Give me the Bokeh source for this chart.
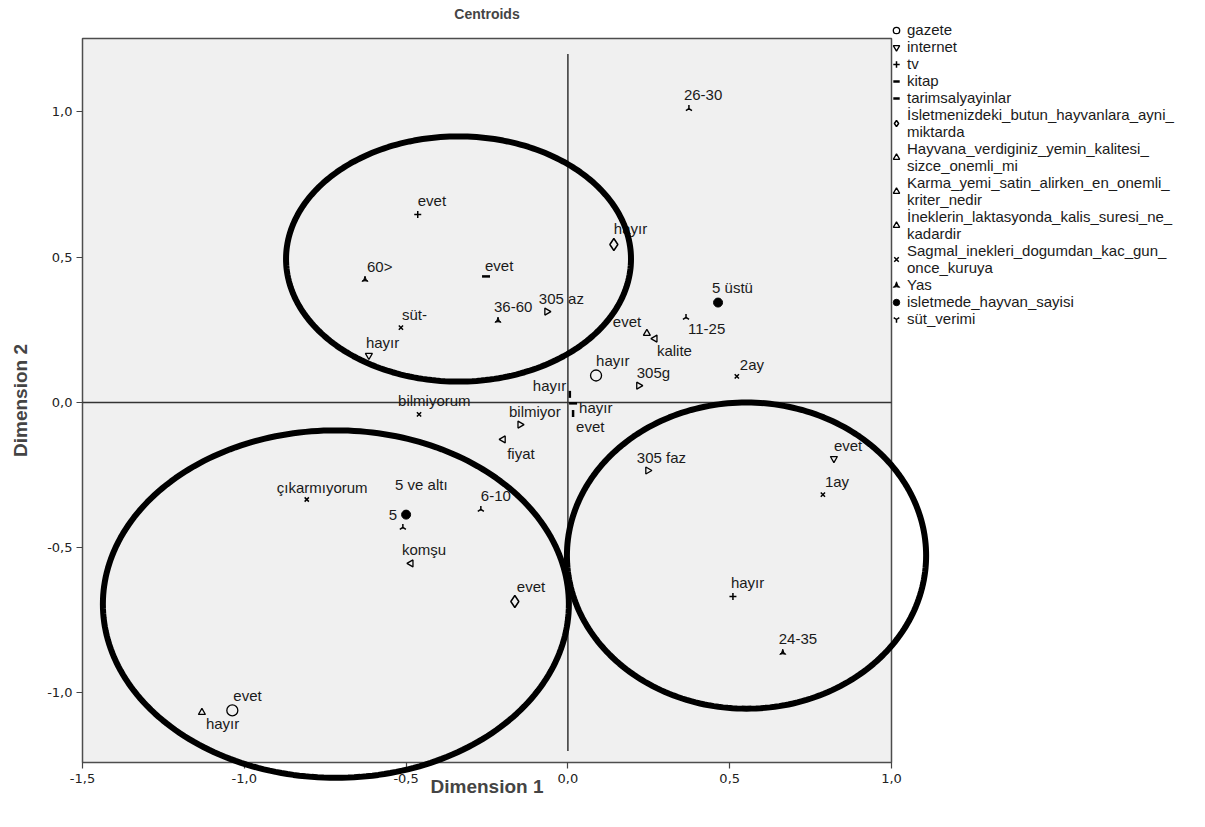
import numpy as np
from bokeh.plotting import figure
from bokeh.models import (ColumnDataSource, PolyAnnotation, BoxAnnotation, Legend, LegendItem,
                          FixedTicker, CustomJSTickFormatter, Range1d, Label)
from bokeh.embed import file_html
from bokeh.resources import INLINE
from bokeh.core.properties import value

# ---------------- data (centroid coordinates) ----------------
gazete_cat = ["evet", "hayır"]
gazete_x = [-1.037, 0.087]
gazete_y = [-1.060, 0.093]

internet_cat = ["hayır", "evet"]
internet_x = [-0.615, 0.822]
internet_y = [0.162, -0.193]

tv_cat = ["evet", "hayır"]
tv_x = [-0.464, 0.510]
tv_y = [0.647, -0.668]

kitap_cat = ["evet", "hayır"]
kitap_x = [-0.253, 0.016]
kitap_y = [0.434, -0.003]

tarim_cat = ["hayır", "evet"]
tarim_x = [0.006, 0.016]
tarim_y = [0.028, -0.038]

isletmeniz_cat = ["hayır", "evet"]
isletmeniz_x = [0.142, -0.164]
isletmeniz_y = [0.544, -0.685]

hayvana_cat = ["evet", "hayır"]
hayvana_x = [0.244, -1.131]
hayvana_y = [0.238, -1.067]

karma_cat = ["kalite", "fiyat", "komşu"]
karma_x = [0.269, -0.200, -0.485]
karma_y = [0.220, -0.127, -0.554]

inek_cat = ["305 az", "305g", "bilmiyor", "305 faz"]
inek_x = [-0.065, 0.219, -0.148, 0.247]
inek_y = [0.313, 0.058, -0.076, -0.234]

sagmal_cat = ["süt-", "2ay", "bilmiyorum", "çıkarmıyorum", "1ay"]
sagmal_x = [-0.516, 0.522, -0.460, -0.807, 0.788]
sagmal_y = [0.258, 0.090, -0.041, -0.334, -0.317]

yas_cat = ["60>", "36-60", "24-35"]
yas_x = [-0.627, -0.216, 0.664]
yas_y = [0.423, 0.282, -0.861]

sayi_cat = ["5 üstü", "5 ve altı"]
sayi_x = [0.464, -0.500]
sayi_y = [0.344, -0.386]

sut_cat = ["26-30", "11-25", "6-10", "5"]
sut_x = [0.374, 0.365, -0.269, -0.510]
sut_y = [1.012, 0.293, -0.368, -0.430]

legend_names = [
    "gazete", "internet", "tv", "kitap", "tarimsalyayinlar",
    "İsletmenizdeki_butun_hayvanlara_ayni_\nmiktarda",
    "Hayvana_verdiginiz_yemin_kalitesi_\nsizce_onemli_mi",
    "Karma_yemi_satin_alirken_en_onemli_\nkriter_nedir",
    "İneklerin_laktasyonda_kalis_suresi_ne_\nkadardir",
    "Sagmal_inekleri_dogumdan_kac_gun_\nonce_kuruya",
    "Yas", "isletmede_hayvan_sayisi", "süt_verimi",
]

x_ticks = [-1.5, -1.0, -0.5, 0.0, 0.5, 1.0]
y_ticks = [-1.0, -0.5, 0.0, 0.5, 1.0]

# ---------------- styling (label offsets in screen px, +y = down) ----------------
label_dx = [[1, 0], [-3, 0], [0, -2], [-1, 6], [-37, 3], [0, 2], [-34, 4],
            [2, 4, -9], [-8, -2, -11, -11], [1, 3, -21, -30, 2], [2, -4, -4],
            [-6, -11], [-5, 2, 0, -14]]
label_dy = [[-15, -15], [-13, -13], [-14, -14], [-11, 4], [-9, 13], [-16, -15], [-12, 11],
            [12, 14, -14], [-13, -13, -13, -13], [-13, -12, -14, -12, -13], [-13, -14, -14],
            [-15, -30], [-14, 12, -13, -12]]

series = [
    (gazete_cat, gazete_x, gazete_y, dict(marker="circle", size=11, fill_color=None, line_width=1.3)),
    (internet_cat, internet_x, internet_y, dict(marker="inverted_triangle", size=7, fill_color=None, line_width=1.3)),
    (tv_cat, tv_x, tv_y, dict(marker="cross", size=7, line_width=1.5)),
    (kitap_cat, kitap_x, kitap_y, dict(marker="dash", size=8, line_width=2.5)),
    (tarim_cat, tarim_x, tarim_y, dict(marker="dash", size=7, line_width=2.5, angle=np.pi / 2)),
    (isletmeniz_cat, isletmeniz_x, isletmeniz_y, dict(marker="diamond", size=12, fill_color=None, line_width=1.5)),
    (hayvana_cat, hayvana_x, hayvana_y, dict(marker="triangle", size=7, fill_color=None, line_width=1.3)),
    (karma_cat, karma_x, karma_y, dict(marker="triangle", size=7, fill_color=None, line_width=1.3, angle=np.pi / 2)),
    (inek_cat, inek_x, inek_y, dict(marker="triangle", size=7, fill_color=None, line_width=1.3, angle=-np.pi / 2)),
    (sagmal_cat, sagmal_x, sagmal_y, dict(marker="x", size=6, line_width=1.5)),
    (yas_cat, yas_x, yas_y, dict(marker="triangle_pin", size=6, fill_color="black", line_width=1)),
    (sayi_cat, sayi_x, sayi_y, dict(marker="circle", size=9, fill_color="black", line_width=1)),
    (sut_cat, sut_x, sut_y, dict(marker="y", size=7, line_width=1.5, angle=np.pi)),
]

# ellipses drawn on the chart (annotation shapes): center x, center y, half width, half height
ellipses = [(-0.338, 0.494, 0.533, 0.422),
            (-0.717, -0.694, 0.720, 0.598),
            (0.552, -0.527, 0.555, 0.527)]

# plot box limits and the canvas extent around it
box = dict(left=-1.5, right=1.0, bottom=-1.239, top=1.253)

p = figure(width=1189, height=805, output_backend="svg", toolbar_location=None,
           x_range=Range1d(-1.7534, 1.9209), y_range=Range1d(-1.3873, 1.3838))
p.min_border = 0
p.min_border_left = 0
p.min_border_right = 0
p.min_border_top = 0
p.min_border_bottom = 0
p.outline_line_color = None
p.background_fill_color = "white"
p.border_fill_color = "white"
p.grid.visible = False

p.add_layout(BoxAnnotation(left=box["left"], right=box["right"], bottom=box["bottom"], top=box["top"],
                           fill_color="#f0f0f0", fill_alpha=1, line_color="#4d4d4d", line_alpha=1,
                           line_width=1.5, level="underlay"))

fmt = CustomJSTickFormatter(code="return tick.toFixed(1).replace('.', ',');")
for ax, ticks, loc in ((p.xaxis, x_ticks, box["bottom"]), (p.yaxis, y_ticks, box["left"])):
    ax.fixed_location = loc
    ax.ticker = FixedTicker(ticks=ticks)
    ax.formatter = fmt
    ax.major_label_text_font = "DejaVu Sans"
    ax.major_label_text_font_size = "13px"
    ax.major_label_text_color = "#222222"
    ax.major_tick_in = 0
    ax.major_tick_out = 6
    ax.minor_tick_line_color = None
    ax.axis_line_color = None
    ax.major_tick_line_color = "#444444"
    ax.major_tick_line_width = 1.2
p.xaxis.major_label_standoff = 6
p.yaxis.major_label_standoff = 4

# reference lines through the origin
p.segment(x0=[0, box["left"]], y0=[-1.2, 0], x1=[0, box["right"]], y1=[1.2, 0],
          line_color="#333333", line_width=1.5)

items = []
for (cats, xs, ys, mk), dxs, dys, name in zip(series, label_dx, label_dy, legend_names):
    src = ColumnDataSource(dict(x=xs, y=ys, t=cats, dx=dxs, dy=dys))
    r = p.scatter("x", "y", source=src, line_color="black", **mk)
    p.text("x", "y", text="t", source=src, x_offset="dx", y_offset="dy",
           text_font=value("Liberation Sans"), text_font_size="15px",
           text_baseline="middle", text_align="left", text_color="#1a1a1a")
    items.append(LegendItem(label=name, renderers=[r]))

for cx, cy, rx, ry in ellipses:
    t = np.linspace(0, 2 * np.pi, 241)
    p.add_layout(PolyAnnotation(xs=list(cx + rx * np.cos(t)), ys=list(cy + ry * np.sin(t)),
                                fill_alpha=0, line_color="black", line_alpha=1, line_width=6))

# titles
mid_x = (box["left"] + box["right"]) / 2
p.add_layout(Label(x=mid_x, y=1.339, text="Centroids", text_align="center", text_baseline="middle",
                   text_font="Liberation Sans", text_font_style="bold", text_font_size="14px"))
p.add_layout(Label(x=mid_x, y=-1.322, text="Dimension 1", text_align="center", text_baseline="middle",
                   text_font="Liberation Sans", text_font_style="bold", text_font_size="19px"))
p.add_layout(Label(x=-1.6916, y=0.007, text="Dimension 2", text_align="center", text_baseline="middle",
                   angle=np.pi / 2, text_font="Liberation Sans", text_font_style="bold",
                   text_font_size="19px"))

legend = Legend(items=items, location=(888, 478), border_line_color=None,
                background_fill_alpha=0, padding=2, margin=0, spacing=0,
                glyph_width=16, glyph_height=16, label_height=14, label_standoff=3,
                label_text_font="Liberation Sans", label_text_font_size="15px",
                label_text_line_height=0.8, label_text_color="#1a1a1a")
p.add_layout(legend)

open("out.html", "w").write(file_html(p, INLINE))
